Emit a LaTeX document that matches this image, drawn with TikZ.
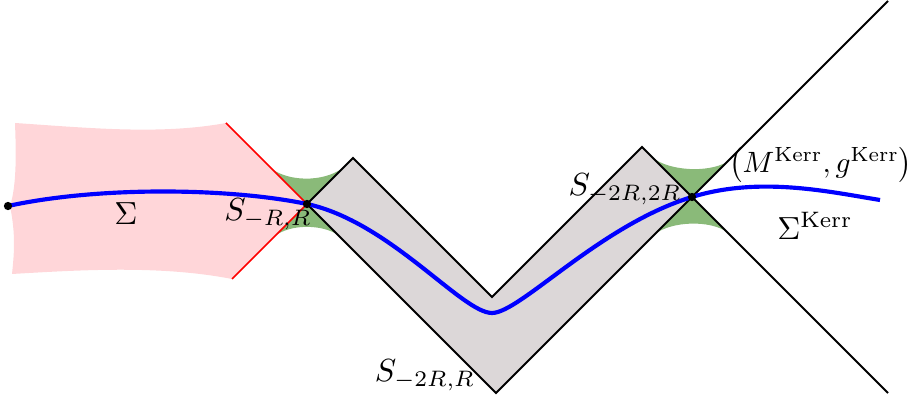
\documentclass[tikz,border=0pt]{standalone}
\usepackage{amsmath,amssymb}
\usepackage{xcolor}
\usetikzlibrary{calc}
\definecolor{slabpink}{HTML}{FFD6D9}
\definecolor{neckgreen}{HTML}{8ABA79}
\definecolor{regiongray}{HTML}{DCD7D8}

\begin{document}
\begin{tikzpicture}[x=0.011cm, y=-0.011cm,
  cone/.style={line width=0.6pt},
  nullred/.style={red, line width=0.5pt},
  slice/.style={blue, line width=1.3pt},
  dotmark/.style={circle, fill=black, inner sep=0pt, minimum size=2.6pt}]
  \useasboundingbox (0,0) rectangle (915,397);

  % Corners of the light cones
  \coordinate (sRR) at (307,204);
  \coordinate (sKerr) at (692,197);
  \coordinate (peakL) at (353,158);
  \coordinate (vIn) at (492,297);
  \coordinate (peakR) at (642,147);
  \coordinate (vOut) at (496,393);
  \coordinate (farUp) at (888,1);
  \coordinate (farDown) at (888,393);
  \coordinate (redTop) at (226,123);
  \coordinate (redBot) at (232,279);

  % Pink data region
  \fill[slabpink] (15,123) .. controls (90,128) and (160,135) .. (redTop)
    -- (sRR) -- (redBot) .. controls (160,265) and (80,270) .. (12,274)
    .. controls (14,255) and (16,235) .. (10,206)
    .. controls (17,185) and (16,150) .. cycle;

  % Green necks
  \fill[neckgreen] (sRR) -- (272,169) .. controls (288,181) and (322,183) .. (343,168) -- cycle;
  \fill[neckgreen] (sRR) -- (275,236) .. controls (290,224) and (322,224) .. (338,235) -- cycle;
  \fill[neckgreen] (sKerr) -- (653,158) .. controls (670,171) and (708,173) .. (727,162) -- cycle;
  \fill[neckgreen] (sKerr) -- (655,234) .. controls (672,221) and (710,220) .. (727,232) -- cycle;

  % Gray region
  \fill[regiongray] (sRR) -- (peakL) -- (vIn) -- (peakR) -- (sKerr) -- (vOut) -- cycle;

  % Null lines
  \draw[nullred] (redTop) -- (sRR) -- (redBot);
  \draw[cone] (sRR) -- (peakL) -- (vIn) -- (peakR) -- (sKerr) -- (farDown);
  \draw[cone] (sRR) -- (vOut) -- (sKerr) -- (farUp);

  % Spacelike slice
  \coordinate (sigStart) at (8,206);
  \coordinate (sigEnd) at (880,200);
  \draw[slice] (sigStart) .. controls (100,186) and (230,188) .. (sRR)
    .. controls (390,222) and (462,313) .. (492,313)
    .. controls (520,313) and (600,225) .. (sKerr)
    .. controls (760,176) and (830,192) .. (sigEnd);

  % Marked points
  \node[dotmark] (dotL) at (sigStart) {};
  \node[dotmark] (dotA) at (sRR) {};
  \node[dotmark] (dotB) at (sKerr) {};

  % Labels
  \node (lSigma) at (126,214) {$\Sigma$};
  \node (lSRR) at (268,214) {$S_{-R,R}$};
  \node (lS2R2R) at (625,189) {$S_{-2R,2R}$};
  \node (lS2RR) at (425,375) {$S_{-2R,R}$};
  \node[inner sep=0pt, anchor=east, scale=0.92] (lKerr) at (913,165) {$\bigl(M^{\text{Kerr}},g^{\text{Kerr}}\bigr)$};
  \node (lSigKerr) at (815,226) {$\Sigma^{\text{Kerr}}$};
\end{tikzpicture}
\end{document}
